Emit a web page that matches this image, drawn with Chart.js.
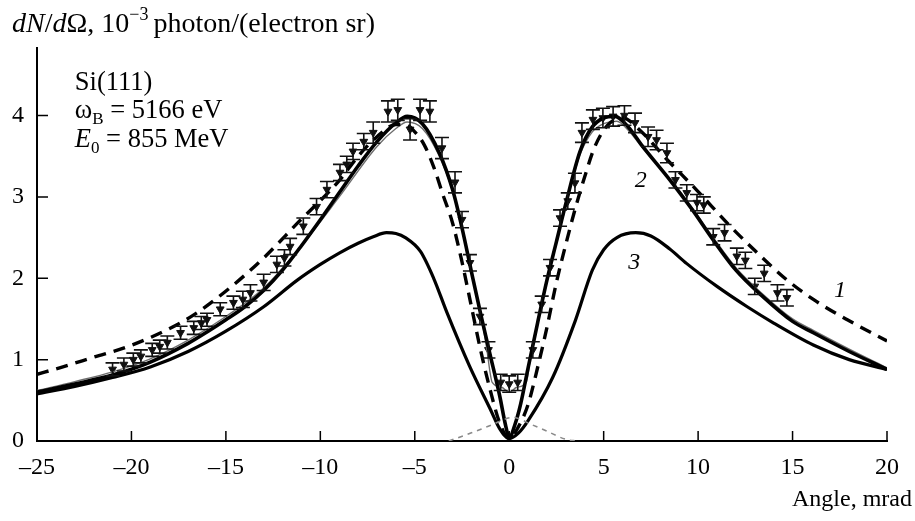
<!DOCTYPE html>
<html>
<head>
<meta charset="utf-8">
<script src="https://cdn.jsdelivr.net/npm/chart.js@4.4.1/dist/chart.umd.min.js"></script>
<style>
html, body { margin: 0; padding: 0; background: #fff; }
</style>
</head>
<body>
<canvas id="chart" width="915" height="521"></canvas>
<script>
// curve 1: dashed
const curve1X = [-25, -23.8, -22, -20.2, -18, -16.7, -14.8, -13, -11.2, -9, -8, -7, -6, -5.5, -5, -4.5, -4, -3.5, -3, -2.5, -2, -1.5, -1, -0.5, 0, 0.5, 1, 1.5, 2, 2.5, 3, 3.5, 4, 4.5, 5.2, 6, 7, 8.35, 9.9, 11.7, 13.1, 14.7, 16.1, 17.9, 20];
const curve1Y = [0.82, 0.9, 1.03, 1.16, 1.38, 1.55, 1.88, 2.25, 2.68, 3.2, 3.5, 3.74, 3.89, 3.89, 3.8, 3.64, 3.37, 3.02, 2.68, 2.2, 1.65, 1.1, 0.62, 0.22, 0.03, 0.18, 0.45, 0.9, 1.4, 1.95, 2.42, 2.86, 3.25, 3.6, 3.88, 3.97, 3.8, 3.46, 3.09, 2.64, 2.32, 1.98, 1.74, 1.49, 1.23];

// curve 2: thick solid
const curve2X = [-25, -23, -21, -19, -17, -16, -15, -14, -13, -12, -11, -10, -9, -8, -7, -6, -5.4, -4.6, -3.7, -3, -2.5, -2, -1.5, -1, -0.5, -0.2, 0, 0.3, 0.6, 1, 1.5, 2, 2.5, 3, 3.75, 4.4, 5, 5.6, 6.3, 7, 8.5, 9.7, 10.8, 12, 13.4, 15, 16.1, 18, 20];
const curve2Y = [0.6, 0.7, 0.81, 0.97, 1.2, 1.34, 1.49, 1.65, 1.85, 2.1, 2.4, 2.72, 3.05, 3.38, 3.68, 3.91, 3.99, 3.9, 3.54, 3.09, 2.62, 2.08, 1.55, 1.05, 0.55, 0.2, 0.04, 0.2, 0.45, 0.9, 1.45, 1.98, 2.45, 2.92, 3.56, 3.86, 3.97, 3.99, 3.86, 3.64, 3.21, 2.84, 2.47, 2.1, 1.78, 1.47, 1.33, 1.1, 0.88];

// thin grey curve
const thinX = [-25, -23, -21, -19, -17, -15, -13, -11, -9, -7, -6, -5.4, -4.6, -3.7, -3, -2.5, -2, -1.5, -1.2, -0.9, -0.4, 0, 0.4, 0.9, 1.2, 1.5, 2, 2.5, 3, 3.75, 4.4, 5, 5.7, 6.3, 7, 8.5, 9.7, 10.8, 12, 13.4, 15, 16.1, 18, 20];
const thinY = [0.62, 0.73, 0.85, 1.01, 1.24, 1.53, 1.88, 2.4, 3.0, 3.62, 3.84, 3.92, 3.84, 3.5, 3.07, 2.62, 2.08, 1.55, 1.15, 0.72, 0.66, 0.6, 0.66, 0.72, 1.15, 1.45, 1.96, 2.43, 2.9, 3.52, 3.8, 3.9, 3.93, 3.82, 3.62, 3.22, 2.86, 2.5, 2.13, 1.81, 1.5, 1.36, 1.13, 0.9];

// curve 3: lower solid
const curve3X = [-25, -23, -21, -19, -17, -15, -13, -11.2, -10, -9, -8, -7.2, -6.5, -6, -5.5, -4.7, -4, -3.3, -2.1, -1, -0.5, 0, 0.5, 1, 2.3, 3.5, 4.4, 5, 5.7, 6.7, 7.5, 8.5, 9.4, 11, 12.6, 14, 16.1, 18, 20];
const curve3Y = [0.58, 0.67, 0.78, 0.91, 1.1, 1.35, 1.65, 1.98, 2.17, 2.31, 2.43, 2.51, 2.56, 2.55, 2.5, 2.33, 2.0, 1.58, 0.92, 0.39, 0.15, 0.03, 0.1, 0.25, 0.78, 1.48, 2.1, 2.35, 2.5, 2.56, 2.52, 2.36, 2.18, 1.9, 1.65, 1.45, 1.18, 1.0, 0.88];

// small grey dashed curve near zero
const smallX = [-3.2, -2, -1, 0.2, 1.2, 2, 3, 3.6];
const smallY = [0, 0.1, 0.19, 0.29, 0.2, 0.12, 0.02, 0];

// measured points with errors
const dataX = [-21, -20.4, -19.9, -19.5, -18.9, -18.5, -18.1, -17.4, -16.7, -16.3, -16.0, -15.3, -14.6, -14.1, -13.7, -13.0, -12.3, -11.9, -11.6, -10.9, -10.2, -9.65, -8.96, -8.6, -8.27, -7.7, -7.2, -6.42, -5.9, -5.25, -4.72, -4.2, -3.56, -2.87, -2.5, -2.08, -1.55, -1.1, -0.45, 0, 0.45, 1.25, 1.72, 2.16, 2.69, 3.1, 3.48, 3.85, 4.43, 4.96, 5.5, 6.1, 6.66, 7.35, 7.8, 8.35, 8.8, 9.4, 9.94, 10.3, 10.8, 11.4, 12.05, 12.5, 13.0, 13.5, 14.2, 14.7];
const dataY = [0.88, 0.94, 1.0, 1.04, 1.12, 1.16, 1.21, 1.33, 1.39, 1.45, 1.49, 1.62, 1.7, 1.74, 1.82, 1.95, 2.17, 2.25, 2.39, 2.64, 2.88, 3.09, 3.3, 3.4, 3.56, 3.68, 3.79, 4.05, 4.07, 3.83, 4.07, 4.05, 3.6, 3.18, 2.72, 2.19, 1.53, 1.12, 0.72, 0.7, 0.72, 1.12, 1.68, 2.13, 2.74, 2.95, 3.17, 3.79, 3.95, 3.97, 3.99, 4.0, 3.91, 3.74, 3.7, 3.54, 3.21, 3.05, 2.93, 2.9, 2.51, 2.56, 2.27, 2.22, 1.9, 2.06, 1.82, 1.76];
const dataErr = [0.08, 0.08, 0.08, 0.08, 0.08, 0.08, 0.08, 0.08, 0.08, 0.08, 0.08, 0.08, 0.08, 0.1, 0.1, 0.1, 0.1, 0.1, 0.1, 0.1, 0.1, 0.1, 0.1, 0.1, 0.1, 0.1, 0.13, 0.13, 0.13, 0.13, 0.13, 0.13, 0.13, 0.13, 0.1, 0.1, 0.1, 0.1, 0.1, 0.1, 0.1, 0.1, 0.1, 0.1, 0.1, 0.1, 0.12, 0.12, 0.12, 0.12, 0.12, 0.12, 0.12, 0.12, 0.12, 0.12, 0.1, 0.1, 0.1, 0.1, 0.1, 0.1, 0.1, 0.1, 0.1, 0.1, 0.1, 0.1];

const xTicks = [-25, -20, -15, -10, -5, 0, 5, 10, 15, 20];
const yTicks = [0, 1, 2, 3, 4];

const serif = "'Liberation Serif', 'Times New Roman', serif";

function points(xs, ys) {
	return xs.map((x, i) => ({ x: x, y: ys[i] }));
}

function drawPieces(ctx, x, y, pieces) {
	let cx = x;
	pieces.forEach(p => {
		ctx.font = p.font;
		ctx.fillText(p.text, cx, y + (p.dy || 0));
		cx += ctx.measureText(p.text).width + (p.gap || 0);
	});
}

const errorBars = {
	id: "errorBars",
	afterDatasetsDraw(chart) {
		const ctx = chart.ctx;
		const yScale = chart.scales.y;
		const meta = chart.getDatasetMeta(5);
		ctx.save();
		ctx.strokeStyle = "#111";
		ctx.lineWidth = 1.6;
		meta.data.forEach((pt, i) => {
			const top = yScale.getPixelForValue(dataY[i] + dataErr[i]);
			const bottom = yScale.getPixelForValue(dataY[i] - dataErr[i]);
			ctx.beginPath();
			ctx.moveTo(pt.x, top);
			ctx.lineTo(pt.x, bottom);
			ctx.moveTo(pt.x - 7, top);
			ctx.lineTo(pt.x + 7, top);
			ctx.moveTo(pt.x - 7, bottom);
			ctx.lineTo(pt.x + 7, bottom);
			ctx.stroke();
		});
		ctx.restore();
	}
};

const innerTicks = {
	id: "innerTicks",
	afterDraw(chart) {
		const ctx = chart.ctx;
		const { x, y } = chart.scales;
		const area = chart.chartArea;
		ctx.save();
		ctx.strokeStyle = "#000";
		ctx.lineWidth = 1.5;
		ctx.beginPath();
		xTicks.slice(1).forEach(v => {
			const px = x.getPixelForValue(v);
			ctx.moveTo(px, area.bottom);
			ctx.lineTo(px, area.bottom - 10);
		});
		yTicks.slice(1).forEach(v => {
			const py = y.getPixelForValue(v);
			ctx.moveTo(area.left, py);
			ctx.lineTo(area.left + 11, py);
		});
		ctx.stroke();
		ctx.restore();
	}
};

const texts = {
	id: "texts",
	afterDraw(chart) {
		const ctx = chart.ctx;
		const { x, y } = chart.scales;
		ctx.save();
		ctx.fillStyle = "#000";
		ctx.textBaseline = "alphabetic";
		ctx.textAlign = "left";
		const reg = "28px " + serif;
		const ita = "italic 28px " + serif;
		const small = "18px " + serif;
		drawPieces(ctx, 12, 32, [
			{ text: "dN", font: ita },
			{ text: "/", font: reg },
			{ text: "d", font: ita },
			{ text: "\u03a9, 10", font: reg },
			{ text: "\u22123", font: small, dy: -12, gap: 5 },
			{ text: "photon/(electron sr)", font: reg }
		]);
		const bx = x.getPixelForValue(-23);
		const f = "26.5px " + serif;
		const fi = "italic 26.5px " + serif;
		const fs = "17px " + serif;
		drawPieces(ctx, bx, y.getPixelForValue(4.31), [{ text: "Si(111)", font: f }]);
		drawPieces(ctx, bx, y.getPixelForValue(3.97), [
			{ text: "\u03c9", font: f },
			{ text: "B", font: fs, dy: 6 },
			{ text: " = 5166 eV", font: f }
		]);
		drawPieces(ctx, bx, y.getPixelForValue(3.61), [
			{ text: "E", font: fi },
			{ text: "0", font: fs, dy: 6 },
			{ text: " = 855 MeV", font: f }
		]);
		ctx.font = "italic 24px " + serif;
		ctx.fillText("1", x.getPixelForValue(17.2), y.getPixelForValue(1.77));
		ctx.fillText("2", x.getPixelForValue(6.65), y.getPixelForValue(3.12));
		ctx.fillText("3", x.getPixelForValue(6.3), y.getPixelForValue(2.11));
		ctx.font = "24px " + serif;
		ctx.textAlign = "right";
		ctx.fillText("Angle, mrad", 912, 506);
		ctx.restore();
	}
};

const lineStyle = {
	pointRadius: 0,
	fill: false,
	cubicInterpolationMode: "monotone"
};

new Chart(document.getElementById("chart"), {
	type: "line",
	data: {
		datasets: [
			Object.assign({ data: points(smallX, smallY), borderColor: "#8a8a8a", borderWidth: 1.6, borderDash: [5, 5] }, lineStyle),
			Object.assign({ data: points(curve3X, curve3Y), borderColor: "#000", borderWidth: 3.2 }, lineStyle),
			Object.assign({ data: points(curve1X, curve1Y), borderColor: "#000", borderWidth: 3.4, borderDash: [12, 8] }, lineStyle),
			Object.assign({ data: points(curve2X, curve2Y), borderColor: "#000", borderWidth: 3.6 }, lineStyle),
			Object.assign({ data: points(thinX, thinY), borderColor: "#6e6e6e", borderWidth: 1.4 }, lineStyle),
			{
				data: points(dataX, dataY),
				showLine: false,
				pointStyle: "triangle",
				rotation: 180,
				pointRadius: 4.5,
				pointBackgroundColor: "#111",
				pointBorderColor: "#111",
				pointBorderWidth: 1
			}
		]
	},
	options: {
		responsive: false,
		animation: false,
		events: [],
		layout: { padding: { top: 48, right: 28, left: 0, bottom: 0 } },
		plugins: { legend: { display: false }, tooltip: { enabled: false } },
		scales: {
			x: {
				type: "linear",
				min: -25,
				max: 20,
				afterBuildTicks: s => { s.ticks = xTicks.map(v => ({ value: v })); },
				afterFit: s => { s.height = 80; },
				grid: { display: false, drawTicks: false },
				border: { display: true, color: "#000", width: 2 },
				ticks: {
					padding: 12,
					color: "#000",
					font: { family: serif, size: 24 },
					callback: v => v < 0 ? "\u2013" + Math.abs(v) : String(v)
				}
			},
			y: {
				min: 0,
				max: 4.83,
				afterBuildTicks: s => { s.ticks = yTicks.map(v => ({ value: v })); },
				afterFit: s => { s.width = 37; },
				grid: { display: false, drawTicks: false },
				border: { display: true, color: "#000", width: 2 },
				ticks: {
					padding: 13,
					color: "#000",
					font: { family: serif, size: 24 }
				}
			}
		}
	},
	plugins: [errorBars, innerTicks, texts]
});
</script>
</body>
</html>
